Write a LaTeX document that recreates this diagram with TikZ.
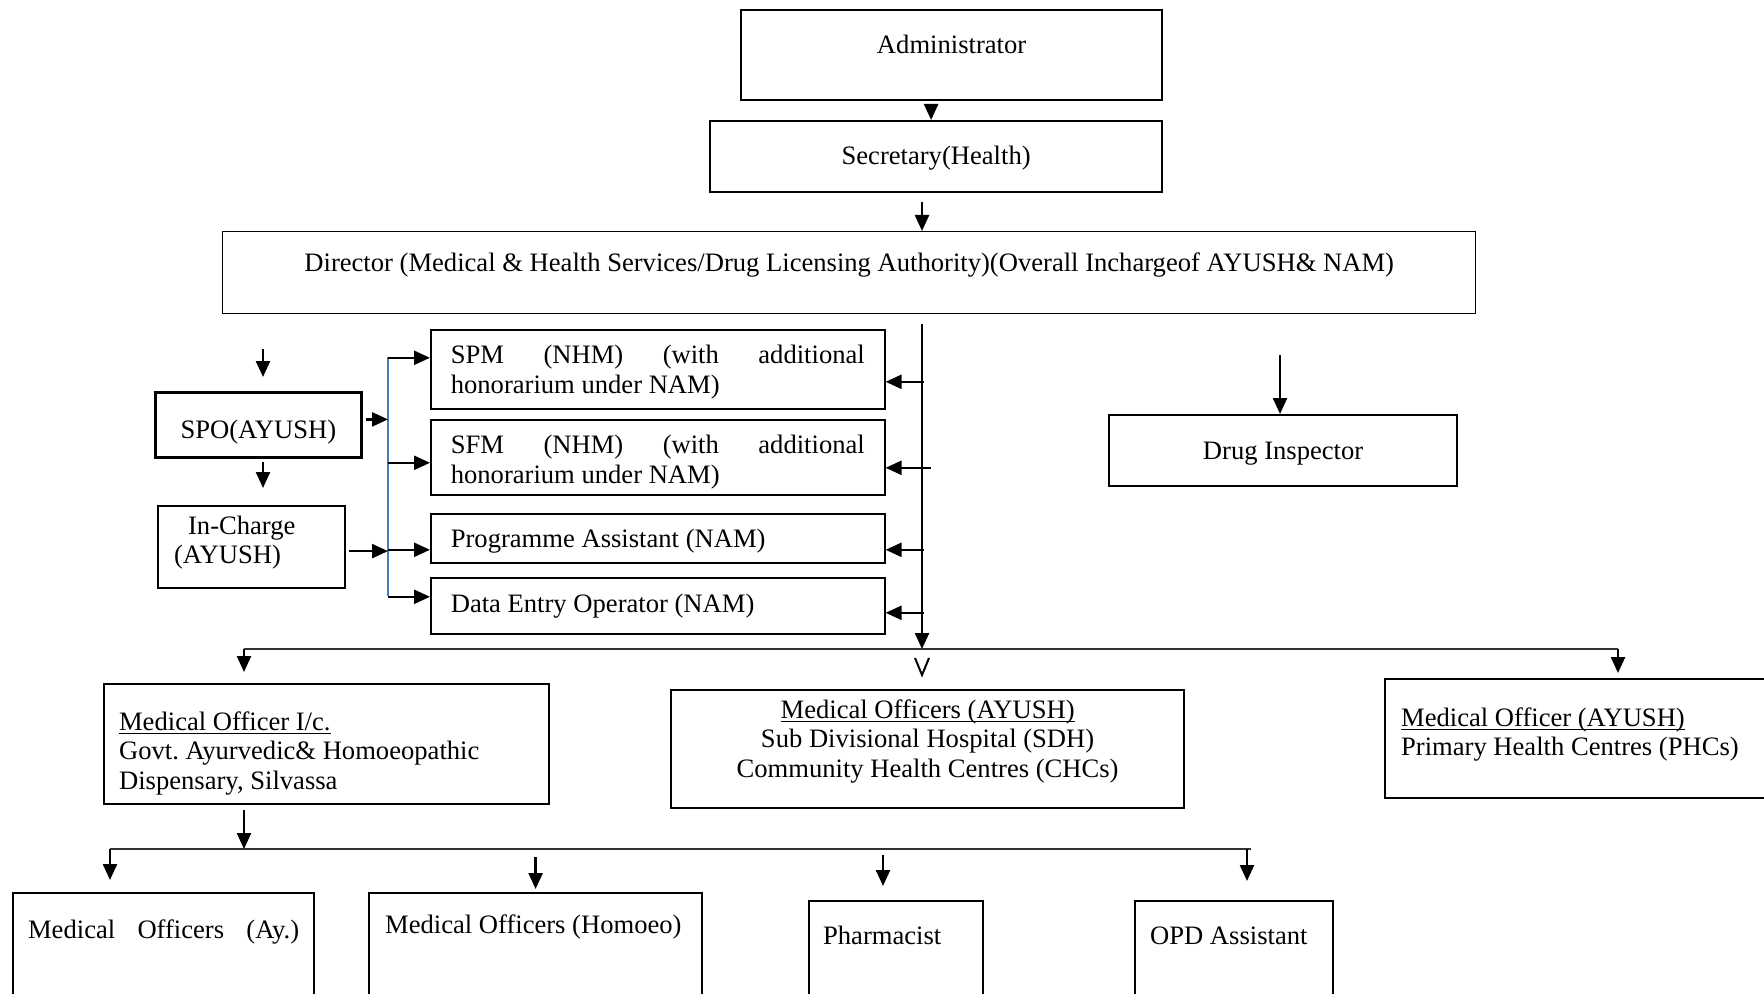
\documentclass[tikz,border=0pt]{standalone}
\usepackage{fontspec}
\setmainfont{Liberation Serif}
\usetikzlibrary{positioning,arrows.meta}
\definecolor{BarBlue}{HTML}{4A7EBB}
\definecolor{Rail}{HTML}{333333}
\newcommand{\ulined}[1]{\setbox0\hbox{#1}\rlap{\rule[-1.8pt]{\wd0}{0.6pt}}\box0}

\begin{document}
\begin{tikzpicture}[x=0.5pt, y=-0.5pt,
  font=\fontsize{13.3}{14.9}\selectfont,
  box/.style={draw, line width=1.1pt, inner sep=0pt, anchor=north west, align=center,
    execute at begin node={\spaceskip=\fontdimen2\font\xspaceskip=\fontdimen2\font}},
  thinbox/.style={box, line width=0.7pt},
  leftbox/.style={box, align=left, inner xsep=#1},
  arr/.style={-{Triangle[length=8pt,width=7pt]}, line width=1.2pt},
  rail/.style={line width=0.9pt, Rail},
  bar/.style={line width=0.8pt, BarBlue},
]
\useasboundingbox (0,0) rectangle (1764,994);
\clip (0,0) rectangle (1764,994);

% Top of the chain
\node[box, text width=210.5pt, text height=21.5pt, text depth=23.5pt] (admin) at (740,9) {Administrator};
\node[box, text width=226pt, text height=21.5pt, text depth=14pt] (sec) at (709,120) {Secretary(Health)};
\node[thinbox, text width=626.5pt, text height=20pt, text depth=21pt] (dir) at (222,231) {Director (Medical \& Health Services/Drug Licensing Authority)(Overall Inchargeof AYUSH\& NAM)};

% AYUSH cell
\node[box, line width=1.4pt, text width=103pt, text height=23pt, text depth=9.5pt] (spo) at (154,391) {SPO(AYUSH)};
\node[leftbox=8pt, text width=77.5pt, text height=14pt, text depth=27pt] (incharge) at (157,505) {\hspace*{7pt}In-Charge\\(AYUSH)};

% NAM staff
\node[leftbox=10pt, line width=0.8pt, text width=207pt, text height=17pt, text depth=22.5pt] (spm) at (430,329) {\hbox to\linewidth{SPM\hfill(NHM)\hfill(with\hfill additional}\\honorarium under NAM)};
\node[leftbox=10pt, line width=0.8pt, text width=207pt, text height=17pt, text depth=20.5pt] (sfm) at (430,419) {\hbox to\linewidth{SFM\hfill(NHM)\hfill(with\hfill additional}\\honorarium under NAM)};
\node[leftbox=10pt, line width=0.8pt, text width=207pt, text height=17pt, text depth=7.5pt] (pa) at (430,513) {Programme Assistant (NAM)};
\node[leftbox=10pt, line width=0.8pt, text width=207pt, text height=17.5pt, text depth=10.5pt] (deo) at (430,577) {Data Entry Operator (NAM)};

\node[box, text width=174pt, text height=22pt, text depth=13.5pt] (drug) at (1108,414) {Drug Inspector};

% Medical officers
\node[leftbox=7.5pt, text width=207.5pt, text height=23pt, text depth=37pt] (moic) at (103,683) {\ulined{Medical Officer I/c.}\\Govt. Ayurvedic\& Homoeopathic\\Dispensary, Silvassa};
\node[box, text width=256.5pt, text height=14pt, text depth=45pt] (mochc) at (670,689) {\ulined{Medical Officers (AYUSH)}\\Sub Divisional Hospital (SDH)\\Community Health Centres (CHCs)};
\node[leftbox=8pt, text width=194pt, text height=23.5pt, text depth=36pt] (mophc) at (1384,678) {\ulined{Medical Officer (AYUSH)}\\Primary Health Centres (PHCs)};

% Dispensary staff
\node[leftbox=7.5pt, text width=135.5pt, text height=22.5pt, text depth=100pt] (moay) at (12,892) {\hbox to\linewidth{Medical\hfill Officers\hfill(Ay.)}};
\node[leftbox=8pt, text width=150.5pt, text height=20pt, text depth=100pt] (mohom) at (368,892) {Medical Officers (Homoeo)};
\node[leftbox=7pt, text width=73pt, text height=21.5pt, text depth=100pt] (pharm) at (808,900) {Pharmacist};
\node[leftbox=7.5pt, text width=84pt, text height=21.5pt, text depth=100pt] (opd) at (1134,900) {OPD Assistant};

% Junction points
\coordinate (trunktop) at (922,324);
\coordinate (trunkbot) at (922,649);
\coordinate (bartop) at (388,357);
\coordinate (barbot) at (388,596);
\coordinate (spoin) at (263,349);
\coordinate (drugin) at (1280,355);
\coordinate (hl) at (244,649);
\coordinate (hr) at (1618,649);
\coordinate (bl) at (110,849);
\coordinate (br) at (1251,849);
\coordinate (pharmin) at (883,855);

% Chain arrows
\draw[arr] ([xshift=-2.5pt, yshift=-2pt]sec.north |- admin.south) -- ([xshift=-2.5pt]sec.north);
\draw[arr] ([yshift=-4.5pt]trunktop |- sec.south) -- (trunktop |- dir.north);
\draw[arr] (trunktop) -- (trunkbot);
\foreach \b/\dy in {spm/-6.25, pa/-5.75, deo/-3.5}
  \draw[arr] ([xshift=19pt, yshift=\dy pt]\b.east) -- ([yshift=\dy pt]\b.east);
\draw[arr] ([xshift=22.5pt, yshift=-5.25pt]sfm.east) -- ([yshift=-5.25pt]sfm.east);

% AYUSH side
\draw[arr] (spoin) -- ([yshift=7pt]spoin |- spo.north);
\draw[arr] ([yshift=-1.5pt]spoin |- spo.south) -- ([yshift=8.5pt]spoin |- incharge.north);
\draw[bar] (bartop) -- (barbot);
\foreach \b/\dy in {spm/5.75, sfm/-2.75, pa/-5.75, deo/4.5}
  \draw[arr] ([xshift=-21pt, yshift=\dy pt]\b.west) -- ([yshift=\dy pt]\b.west);
\draw[arr] ([xshift=1.5pt, yshift=2.75pt]spo.east) -- ([yshift=2.75pt]bartop |- spo.east);
\draw[arr] ([xshift=1.5pt, yshift=-2pt]incharge.east) -- ([yshift=-2pt]bartop |- incharge.east);

\draw[arr] (drugin) -- (drugin |- drug.north);

% Lower distribution
\draw[rail] (hl) -- (hr);
\draw[arr] (hl) -- ([yshift=5.5pt]hl |- moic.north);
\draw[arr] (hr) -- ([yshift=2.5pt]hr |- mophc.north);
\draw[line width=1pt] ([shift={(-7,9)}]trunkbot) -- ([shift={(0,26)}]trunkbot) -- ([shift={(7,9)}]trunkbot);

\draw[arr] ([yshift=-2.5pt]hl |- moic.south) -- (hl |- bl);
\draw[rail] (bl) -- (br);
\draw[arr] (bl) -- ([yshift=6pt]bl |- moay.north);
\draw[arr] ([yshift=-4pt]mohom.north |- bl) -- ([yshift=1.5pt]mohom.north);
\draw[arr] (pharmin) -- ([yshift=7pt]pharmin |- pharm.north);
\draw[arr] ([xshift=-2pt]br) -- ([xshift=-2pt, yshift=9.5pt]br |- opd.north);
\end{tikzpicture}
\end{document}
